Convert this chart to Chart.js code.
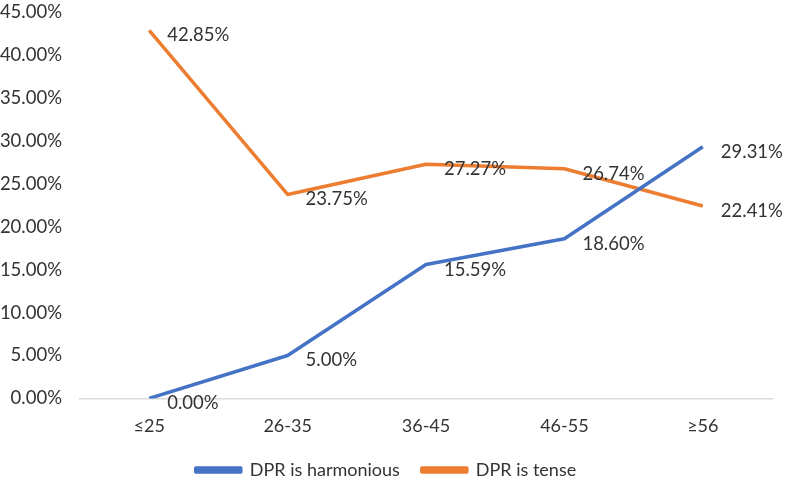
<!DOCTYPE html>
<html>
<head>
<meta charset="utf-8">
<script src="https://cdn.jsdelivr.net/npm/chart.js@4"></script>
<style>
  html, body { margin: 0; padding: 0; background: #fff; }
  #wrap { width: 787px; height: 482px; }
</style>
</head>
<body>
<div id="wrap"><canvas id="dpr" width="787" height="482"></canvas></div>
<script>
const ageGroups = ["≤25", "26-35", "36-45", "46-55", "≥56"];
const harmonious = [0.00, 5.00, 15.59, 18.60, 29.31];
const tense = [42.85, 23.75, 27.27, 26.74, 22.41];

const fontFamily = "Lato, 'Open Sans', sans-serif";

// value labels to the right of each point
const pointLabels = {
    id: "pointLabels",
    afterDatasetsDraw(chart) {
        const ctx = chart.ctx;
        ctx.save();
        ctx.font = "18.5px " + fontFamily;
        ctx.fillStyle = "#333333";
        ctx.textAlign = "left";
        ctx.textBaseline = "middle";
        chart.data.datasets.forEach(function (ds, i) {
            chart.getDatasetMeta(i).data.forEach(function (pt, j) {
                ctx.fillText(ds.data[j].toFixed(2) + "%", pt.x + 18, pt.y + 5);
            });
        });
        ctx.restore();
    }
};

new Chart(document.getElementById("dpr"), {
    type: "line",
    data: {
        labels: ageGroups,
        datasets: [{
            label: "DPR is harmonious",
            data: harmonious,
            borderColor: "#4472c4",
            backgroundColor: "#4472c4",
            borderWidth: 3.5,
            pointRadius: 0,
            borderJoinStyle: "round"
        }, {
            label: "DPR is tense",
            data: tense,
            borderColor: "#ed7d31",
            backgroundColor: "#ed7d31",
            borderWidth: 3.5,
            pointRadius: 0,
            borderJoinStyle: "round"
        }]
    },
    options: {
        responsive: false,
        animation: false,
        layout: { padding: { top: 0, right: 15, left: 0, bottom: -7 } },
        plugins: {
            tooltip: { enabled: false },
            legend: {
                position: "bottom",
                labels: {
                    boxWidth: 45,
                    boxHeight: 4,
                    padding: 22,
                    color: "#333333",
                    font: { family: fontFamily, size: 18 }
                }
            }
        },
        scales: {
            x: {
                offset: true,
                grid: { display: false, drawTicks: false },
                border: { display: true, color: "#d9d9d9", width: 1.5 },
                afterFit: function (scale) { scale.height -= 15; },
                ticks: { color: "#333333", padding: 17, font: { family: fontFamily, size: 18 } }
            },
            y: {
                min: 0,
                max: 45,
                grid: { display: false, drawTicks: false },
                border: { display: false },
                afterFit: function (scale) {
                    scale.width = 80;
                    scale.paddingTop = 12;
                },
                ticks: {
                    stepSize: 5,
                    color: "#333333",
                    padding: 18,
                    font: { family: fontFamily, size: 18.5 },
                    callback: function (v) { return v.toFixed(2) + "%"; }
                }
            }
        }
    },
    plugins: [pointLabels]
});
</script>
</body>
</html>
